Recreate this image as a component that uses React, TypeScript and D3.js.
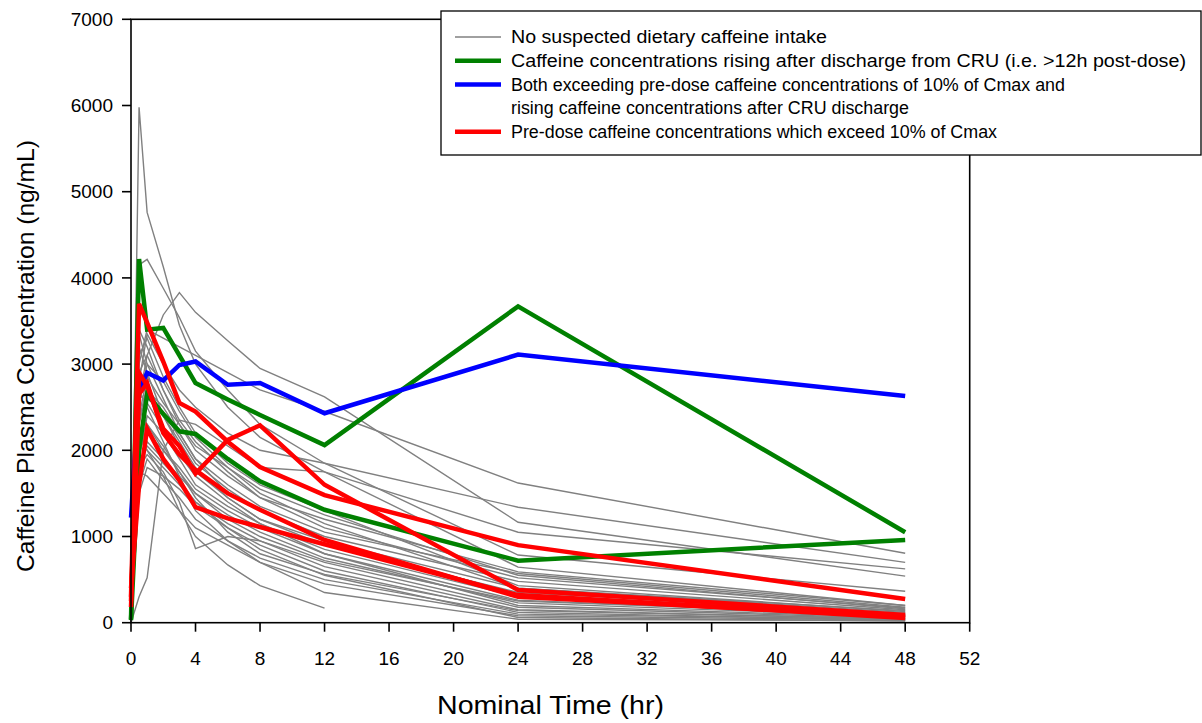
import React from "react";
import * as d3 from "d3";

const times = [0, 0.5, 1, 2, 3, 4, 6, 8, 12, 24, 48];
const xTickValues = [0, 4, 8, 12, 16, 20, 24, 28, 32, 36, 40, 44, 48, 52];
const yTickValues = [0, 1000, 2000, 3000, 4000, 5000, 6000, 7000];

// Subjects with no suspected dietary caffeine intake (grey)
const graySeries: (number | null)[][] = [
  [0, 5980, 4760, 4130, 3450, 3000, 2500, 2150, 1750, 1050, 625],
  [50, 4150, 4215, 3880, 3540, 3150, 2700, 2300, 1850, 785, 365],
  [0, 2600, 3100, 3570, 3830, 3600, 3270, 2950, 2620, 1165, 540],
  [100, 3000, 3400, 3300, 3200, 3100, 2900, 2700, 2450, 1620, 805],
  [20, 2800, 3350, 3000, 2700, 2500, 2200, 2000, 1850, 1340, 700],
  [0, 300, 520, 2000, 2350, 2300, 2050, 1800, 1750, 645, 200],
  [80, 2300, 2700, 2500, 2200, 1900, 1500, 1300, 1000, 480, 150],
  [150, 2900, 3100, 2700, 2350, 2100, 1750, 1450, 1100, 520, 170],
  [30, 1900, 2400, 2200, 1900, 1600, 1350, 1150, 850, 300, 100],
  [0, 2100, 2600, 2450, 2150, 1850, 1550, 1300, 950, 400, 120],
  [200, 2500, 2300, 2000, 1800, 1550, 1300, 1100, 800, 260, 80],
  [0, 3200, 2900, 2400, 2100, 1800, 1450, 1200, 900, 350, 110],
  [60, 1700, 2100, 1900, 1700, 1500, 1250, 1050, 750, 230, 70],
  [10, 2650, 2550, 2250, 1950, 1700, 1400, 1150, 800, 200, 60],
  [0, 1800, 1950, 1750, 1400, 860, 1000, 950, 700, 180, 50],
  [120, 3350, 3000, 2600, 2200, 1900, 1600, 1350, 1050, 570, 180],
  [40, 2200, 2000, 1800, 1600, 1400, 1150, 950, 650, 150, 40],
  [0, 1500, 1800, 1700, 1550, 1350, 1100, 900, 600, 120, 30],
  [90, 2400, 2850, 2550, 2300, 2050, 1800, 1550, 1250, 550, 160],
  [0, 2000, 2200, 2000, 1750, 1500, 1200, 1000, 720, 250, 90],
  [30, 1600, 1900, 1650, 1450, 1200, 950, 700, 450, 80, 30],
  [0, 2700, 2500, 2100, 1700, 1300, 950, 750, 500, 100, 40],
  [0, 1950, 2300, 2050, 1750, 1450, 1050, 800, 560, 140, 45],
  [0, 2200, 2000, 1700, 1300, 1000, 670, 430, 170, null, null],
  [50, 3100, 3300, 2850, 2500, 2200, 1850, 1600, 1300, 430, 130],
  [0, 2350, 2750, 2400, 2050, 1750, 1450, 1200, 950, 330, 90],
  [0, 1850, 2050, 1850, 1650, 1400, 1100, 850, 550, 60, 20],
  [70, 2550, 3000, 2800, 2450, 2150, 1800, 1500, 1150, 400, 140],
  [0, 1750, 1700, 1500, 1300, 1100, 900, 700, 350, 40, 25],
  [0, 3400, 3200, 2700, 2300, 2000, 1700, 1450, 1200, 590, 200],
];

// Caffeine concentrations rising after CRU discharge (green)
const greenSeries: number[][] = [
  [40, 4220, 3400, 3420, 3100, 2780, 2590, 2410, 2060, 3670, 1050],
  [30, 2000, 2650, 2420, 2220, 2190, 1900, 1640, 1310, 720, 960],
];

// Both (blue)
const blueSeries: number[][] = [
  [1220, 2700, 2900, 2810, 2990, 3030, 2760, 2780, 2430, 3110, 2630],
];

// Pre-dose > 10% Cmax (red)
const redSeries: number[][] = [
  [300, 3700, 3480, 3030, 2550, 2450, 2100, 1805, 1480, 900, 275],
  [250, 2900, 2750, 2250, 2050, 1730, 2120, 2290, 1600, 380, 90],
  [180, 2650, 2780, 2200, 1950, 1770, 1500, 1310, 960, 300, 70],
  [400, 1600, 2250, 1900, 1650, 1340, 1210, 1110, 910, 320, 55],
];

const legendItems = [
  { color: "#808080", width: 1.5, lines: [["No suspected dietary caffeine intake", 316]] },
  { color: "#008000", width: 4.5, lines: [["Caffeine concentrations rising after discharge from CRU (i.e. >12h post-dose)", 675]] },
  {
    color: "#0000FF",
    width: 4.5,
    lines: [
      ["Both exceeding pre-dose caffeine concentrations of 10% of Cmax and", 554],
      ["rising caffeine concentrations after CRU discharge", 398],
    ],
  },
  { color: "#FF0000", width: 4.5, lines: [["Pre-dose caffeine concentrations which exceed 10% of Cmax", 486]] },
];

const FONT = "'Liberation Sans', Arial, sans-serif";

export default function App() {
  const W = 1202;
  const H = 723;
  const left = 131;
  const right = 969.7;
  const top = 19.3;
  const bottom = 622.7;

  const x = d3.scaleLinear().domain([0, 52]).range([left, right]);
  const y = d3.scaleLinear().domain([0, 7000]).range([bottom, top]);

  const line = d3
    .line<number | null>()
    .defined((d) => d !== null)
    .x((_, i) => x(times[i]))
    .y((d) => y(d as number));

  const renderGroup = (series: (number | null)[][], color: string, width: number) =>
    series.map((s, i) => (
      <path
        key={color + i}
        d={line(s) || ""}
        fill="none"
        stroke={color}
        strokeWidth={width}
        strokeLinejoin="miter"
        strokeMiterlimit={4}
      />
    ));

  let rowY = 37;
  const rowGap = 23.7;

  return (
    <svg
      width={W}
      height={H}
      style={{ position: "absolute", left: 0, top: 0, background: "#fff" }}
      fontFamily={FONT}
    >
      <rect x={0} y={0} width={W} height={H} fill="#fff" />

      {/* data */}
      <g>
        {renderGroup(graySeries, "#808080", 1.4)}
        {renderGroup(greenSeries, "#008000", 4.5)}
        {renderGroup(blueSeries, "#0000FF", 4.5)}
        {renderGroup(redSeries, "#FF0000", 4.5)}
      </g>

      {/* frame */}
      <rect x={left} y={top} width={right - left} height={bottom - top} fill="none" stroke="#000" strokeWidth={1.6} />

      {/* y ticks */}
      {yTickValues.map((v) => (
        <g key={"y" + v}>
          <line x1={left - 9} x2={left} y1={y(v)} y2={y(v)} stroke="#000" strokeWidth={1.6} />
          <text x={left - 18} y={y(v)} dy="0.35em" textAnchor="end" fontSize={19} fill="#000">
            {v}
          </text>
        </g>
      ))}

      {/* x ticks */}
      {xTickValues.map((v) => (
        <g key={"x" + v}>
          <line x1={x(v)} x2={x(v)} y1={bottom} y2={bottom + 9} stroke="#000" strokeWidth={1.6} />
          <text x={x(v)} y={bottom + 36} dy="0.35em" textAnchor="middle" fontSize={19} fill="#000">
            {v}
          </text>
        </g>
      ))}

      {/* axis titles */}
      <text
        x={437}
        y={705}
        dy="0.35em"
        fontSize={26}
        fill="#000"
        textLength={227}
        lengthAdjust="spacingAndGlyphs"
      >
        Nominal Time (hr)
      </text>
      <text
        transform={`translate(25, ${356}) rotate(-90)`}
        dy="0.35em"
        textAnchor="middle"
        fontSize={24.5}
        fill="#000"
        textLength={432}
        lengthAdjust="spacingAndGlyphs"
      >
        Caffeine Plasma Concentration (ng/mL)
      </text>

      {/* legend */}
      <g>
        <rect x={441} y={11} width={760} height={144} fill="#fff" stroke="#000" strokeWidth={1.3} />
        {legendItems.map((item, i) => {
          const yy = rowY;
          rowY += rowGap * item.lines.length;
          return (
            <g key={"lg" + i}>
              <line x1={455} x2={501} y1={yy} y2={yy} stroke={item.color} strokeWidth={item.width} />
              {item.lines.map((t, j) => (
                <text
                  key={j}
                  x={511}
                  y={yy + j * rowGap}
                  dy="0.35em"
                  fontSize={17.5}
                  fill="#000"
                  textLength={t[1] as number}
                  lengthAdjust="spacingAndGlyphs"
                >
                  {t[0] as string}
                </text>
              ))}
            </g>
          );
        })}
      </g>
    </svg>
  );
}
